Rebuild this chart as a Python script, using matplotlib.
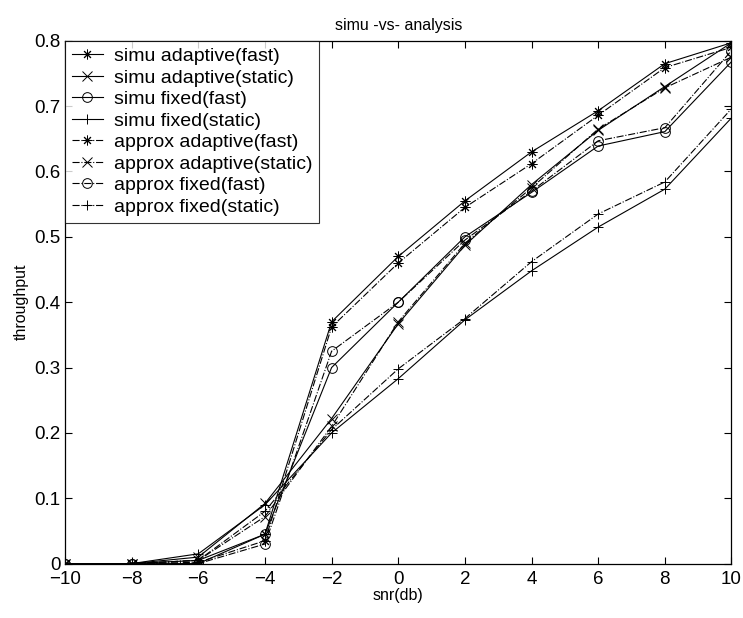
import numpy as np
import matplotlib.pyplot as plt

plt.rcParams['font.family'] = ['Liberation Sans', 'DejaVu Sans']

snr = [-10, -8, -6, -4, -2, 0, 2, 4, 6, 8, 10]

simu_adaptive_fast = [0, 0, 0.005, 0.045, 0.370, 0.470, 0.555, 0.630, 0.693, 0.765, 0.797]
simu_adaptive_static = [0, 0, 0.010, 0.092, 0.222, 0.367, 0.487, 0.580, 0.663, 0.730, 0.797]
simu_fixed_fast = [0, 0, 0, 0.045, 0.300, 0.400, 0.500, 0.568, 0.639, 0.661, 0.768]
simu_fixed_static = [0, 0, 0.015, 0.090, 0.200, 0.283, 0.373, 0.448, 0.515, 0.573, 0.682]

approx_adaptive_fast = [0, 0, 0.002, 0.035, 0.362, 0.460, 0.545, 0.612, 0.686, 0.759, 0.790]
approx_adaptive_static = [0, 0, 0.005, 0.072, 0.210, 0.370, 0.490, 0.575, 0.665, 0.728, 0.775]
approx_fixed_fast = [0, 0, 0, 0.030, 0.325, 0.400, 0.495, 0.570, 0.647, 0.667, 0.785]
approx_fixed_static = [0, 0, 0.005, 0.080, 0.205, 0.298, 0.375, 0.462, 0.535, 0.584, 0.696]

asterisk = (8, 2, 0)

fig = plt.figure(figsize=(7.43, 6.18), dpi=100)
ax = fig.add_axes([0.0875, 0.088, 0.897, 0.846])

kw = dict(color='black', lw=0.8, ms=7, mew=0.7, mfc='none')
ax.plot(snr, simu_adaptive_fast, '-', marker=asterisk, label='simu adaptive(fast)', **kw)
ax.plot(snr, simu_adaptive_static, '-', marker='x', label='simu adaptive(static)', **kw)
ax.plot(snr, simu_fixed_fast, '-', marker='o', label='simu fixed(fast)', **kw)
ax.plot(snr, simu_fixed_static, '-', marker='+', label='simu fixed(static)', **kw)
ax.plot(snr, approx_adaptive_fast, '-.', marker=asterisk, label='approx adaptive(fast)', **kw)
ax.plot(snr, approx_adaptive_static, '-.', marker='x', label='approx adaptive(static)', **kw)
ax.plot(snr, approx_fixed_fast, '-.', marker='o', label='approx fixed(fast)', **kw)
ax.plot(snr, approx_fixed_static, '-.', marker='+', label='approx fixed(static)', **kw)

ax.set_xlim(-10, 10)
ax.set_ylim(0, 0.8)
ax.set_xticks(np.arange(-10, 11, 2))
yt = np.arange(0, 0.81, 0.1)
ax.set_yticks(yt)
ax.set_yticklabels(['0'] + ['%.1f' % v for v in yt[1:]])
ax.tick_params(direction='in', top=True, right=True, labelsize=13.5, length=5, width=0.8)
ax.tick_params(axis='x', pad=5)
ax.tick_params(axis='y', pad=3)
for s in ax.spines.values():
    s.set_linewidth(0.9)

ax.set_title('simu -vs- analysis', fontsize=11.5, pad=8)
ax.set_xlabel('snr(db)', fontsize=11.5, labelpad=0)
ax.set_ylabel('throughput', fontsize=11.5, labelpad=4)

leg = ax.legend(loc='upper left', fontsize=14, frameon=True, fancybox=False,
                edgecolor='black', borderaxespad=0, labelspacing=0.2,
                handlelength=1.6, handletextpad=0.55, borderpad=0.35)
leg.get_frame().set_linewidth(0.8)

fig.savefig('out.png', dpi=100)
